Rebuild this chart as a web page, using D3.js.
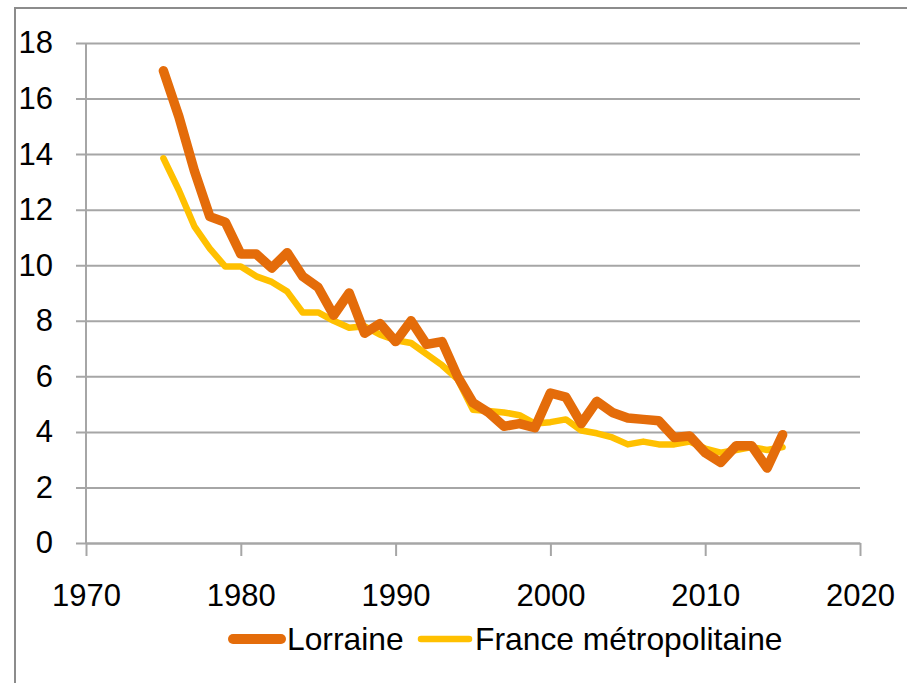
<!DOCTYPE html>
<html>
<head>
<meta charset="utf-8">
<script src="https://cdn.jsdelivr.net/npm/d3@7"></script>
<style>
  body { margin: 0; background: #fff; }
  text { font-family: "Liberation Sans", Arial, sans-serif; }
</style>
</head>
<body>
<script>
var years = [1975, 1976, 1977, 1978, 1979, 1980, 1981, 1982, 1983, 1984,
             1985, 1986, 1987, 1988, 1989, 1990, 1991, 1992, 1993, 1994,
             1995, 1996, 1997, 1998, 1999, 2000, 2001, 2002, 2003, 2004,
             2005, 2006, 2007, 2008, 2009, 2010, 2011, 2012, 2013, 2014, 2015];

var lorraine = [17.0, 15.35, 13.4, 11.75, 11.55, 10.4, 10.4, 9.9, 10.45, 9.6,
                9.2, 8.2, 9.0, 7.55, 7.9, 7.25, 8.0, 7.15, 7.25, 6.0,
                5.05, 4.7, 4.2, 4.3, 4.15, 5.4, 5.25, 4.3, 5.1, 4.7,
                4.5, 4.45, 4.4, 3.8, 3.85, 3.25, 2.9, 3.5, 3.5, 2.7, 3.9];

var france = [13.85, 12.7, 11.4, 10.6, 9.95, 9.95, 9.6, 9.4, 9.05, 8.3,
              8.3, 8.0, 7.75, 7.8, 7.5, 7.3, 7.2, 6.8, 6.4, 5.9,
              4.8, 4.75, 4.7, 4.6, 4.3, 4.35, 4.45, 4.05, 3.95, 3.8,
              3.55, 3.65, 3.55, 3.55, 3.65, 3.4, 3.25, 3.35, 3.45, 3.35, 3.45];

var xTicks = [1970, 1980, 1990, 2000, 2010, 2020];
var yTicks = [0, 2, 4, 6, 8, 10, 12, 14, 16, 18];

var seriesNames = ["Lorraine", "France métropolitaine"];
var seriesColors = ["#e46c0a", "#ffc000"];

var svg = d3.select("body").append("svg")
    .attr("width", 907)
    .attr("height", 683);

// chart frame (only top and left visible)
svg.append("path")
    .attr("d", "M15,683V8H907")
    .attr("fill", "none")
    .attr("stroke", "#8c8c8c")
    .attr("stroke-width", 2);

var x = d3.scaleLinear().domain([1970, 2020]).range([86, 860]);
var y = d3.scaleLinear().domain([0, 18]).range([543, 43]);

// gridlines + y labels
var yAxis = svg.append("g")
    .attr("transform", "translate(76,0)")
    .call(d3.axisLeft(y).tickValues(yTicks).tickSizeInner(-784).tickSizeOuter(0).tickPadding(23));
yAxis.select(".domain").remove();
yAxis.selectAll("line").attr("stroke", "#a6a6a6").attr("stroke-width", 2);
yAxis.selectAll("text").attr("font-size", 31).attr("fill", "#000");

// vertical axis line
svg.append("line")
    .attr("x1", x(1970)).attr("x2", x(1970))
    .attr("y1", y(18)).attr("y2", y(0))
    .attr("stroke", "#a6a6a6").attr("stroke-width", 2);

// x axis
var xAxis = svg.append("g")
    .attr("transform", "translate(0," + y(0) + ")")
    .call(d3.axisBottom(x).tickValues(xTicks).tickFormat(d3.format("d"))
          .tickSizeInner(13).tickSizeOuter(0).tickPadding(28));
xAxis.select(".domain").attr("stroke", "#a6a6a6").attr("stroke-width", 2);
xAxis.selectAll("line").attr("stroke", "#a6a6a6").attr("stroke-width", 2);
xAxis.selectAll("text").attr("font-size", 31).attr("fill", "#000");

var line = d3.line()
    .x(function(d, i) { return x(years[i]); })
    .y(function(d) { return y(d); });

svg.append("path")
    .attr("d", line(france))
    .attr("fill", "none")
    .attr("stroke", seriesColors[1])
    .attr("stroke-width", 6.5)
    .attr("stroke-linejoin", "round")
    .attr("stroke-linecap", "round");

svg.append("path")
    .attr("d", line(lorraine))
    .attr("fill", "none")
    .attr("stroke", seriesColors[0])
    .attr("stroke-width", 9.5)
    .attr("stroke-linejoin", "round")
    .attr("stroke-linecap", "round");

// legend
var legendX = [233, 421];
var legendW = [10, 6.5];
seriesNames.forEach(function(name, i) {
  var g = svg.append("g").attr("transform", "translate(" + legendX[i] + ",639)");
  g.append("line")
      .attr("x1", 0).attr("x2", 48)
      .attr("stroke", seriesColors[i])
      .attr("stroke-width", legendW[i])
      .attr("stroke-linecap", "round");
  g.append("text")
      .attr("x", 54).attr("y", 11)
      .attr("font-size", 31.8)
      .attr("fill", "#000")
      .text(name);
});
</script>
</body>
</html>
